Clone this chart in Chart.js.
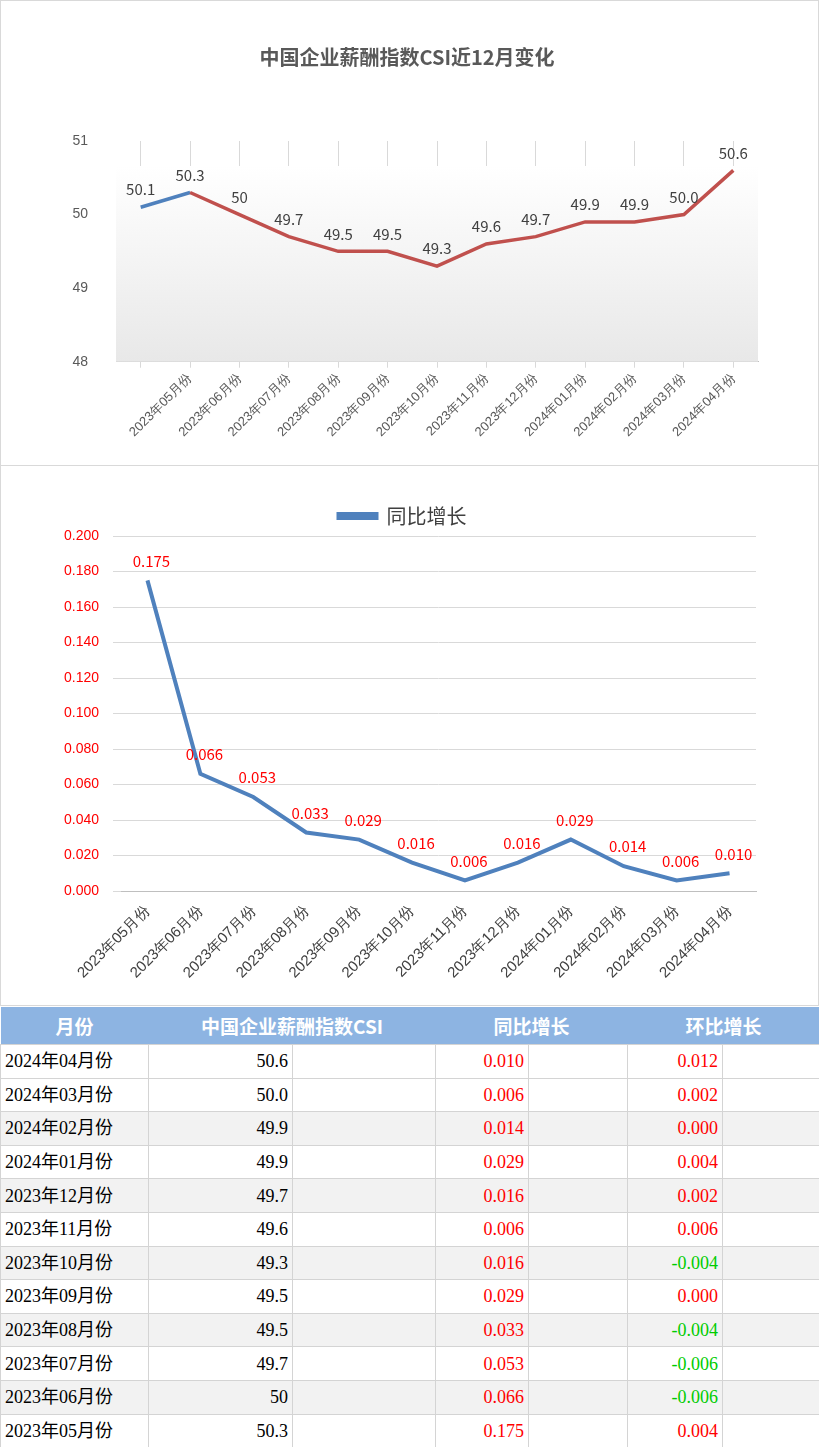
<!DOCTYPE html>
<html><head><meta charset="utf-8">
<script src="https://cdn.jsdelivr.net/npm/chart.js@4"></script>
<style>
body{margin:0;width:819px;height:1447px;background:#fff;font-family:"Noto Sans CJK SC",sans-serif;overflow:hidden}
.box{position:absolute;left:0;width:817px;border:1px solid #d9d9d9}
#b1{top:0;height:464px}
#b2{top:465px;height:539px}
table{position:absolute;top:1007px;left:0;width:819px;border-collapse:collapse;table-layout:fixed}
th{background:#8DB4E2;color:#fff;font-weight:bold;font-size:19px;height:37px;padding:0}
td{height:32.6px;line-height:20px;padding:0 4px;font-size:18px;border:1px solid #d4d4d4;font-family:"Liberation Serif","Noto Sans CJK SC",serif;color:#000;white-space:nowrap;overflow:hidden}
tr.g td{background:#F2F2F2}
.r{text-align:right}.red{color:#f00}.grn{color:#0c0}
</style></head><body>
<div class="box" id="b1"><canvas id="c1" width="817" height="464"></canvas></div>
<div class="box" id="b2"><canvas id="c2" width="817" height="539"></canvas></div>
<table id="t"></table>
<script>
const cat1=['','2023年05月份','2023年06月份','2023年07月份','2023年08月份','2023年09月份','2023年10月份','2023年11月份','2023年12月份','2024年01月份','2024年02月份','2024年03月份','2024年04月份'];
const csi=[50.1,50.3,50,49.7,49.5,49.5,49.3,49.6,49.7,49.9,49.9,50.0,50.6];
const csiLabels=['50.1','50.3','50','49.7','49.5','49.5','49.3','49.6','49.7','49.9','49.9','50.0','50.6'];
const cat2=cat1.slice(1);
const yoy=[0.175,0.066,0.053,0.033,0.029,0.016,0.006,0.016,0.029,0.014,0.006,0.010];
const tMonths=['2024年04月份','2024年03月份','2024年02月份','2024年01月份','2023年12月份','2023年11月份','2023年10月份','2023年09月份','2023年08月份','2023年07月份','2023年06月份','2023年05月份'];
const tCsi=['50.6','50.0','49.9','49.9','49.7','49.6','49.3','49.5','49.5','49.7','50','50.3'];
const tYoy=['0.010','0.006','0.014','0.029','0.016','0.006','0.016','0.029','0.033','0.053','0.066','0.175'];
const tMom=['0.012','0.002','0.000','0.004','0.002','0.006','-0.004','0.000','-0.004','-0.006','-0.006','0.004'];
const grayRows=[2,4,6,8,10];

let h='<colgroup><col style="width:148px"><col style="width:144px"><col style="width:143px"><col style="width:93px"><col style="width:99px"><col style="width:95px"><col style="width:97px"></colgroup>';
h+='<tr><th>月份</th><th colspan="2">中国企业薪酬指数CSI</th><th colspan="2">同比增长</th><th colspan="2">环比增长</th></tr>';
tMonths.forEach((m,i)=>{h+=`<tr class="${grayRows.includes(i)?'g':''}"><td>${m}</td><td class="r">${tCsi[i]}</td><td></td><td class="r red">${tYoy[i]}</td><td></td><td class="r ${tMom[i].startsWith('-')?'grn':'red'}">${tMom[i]}</td><td></td></tr>`});
document.getElementById('t').innerHTML=h;

const labelsPlugin={id:'lbl',afterDatasetsDraw(c,a,o){const ctx=c.ctx,m=c.getDatasetMeta(0);ctx.save();ctx.font=o.font;ctx.fillStyle=o.color;ctx.textAlign='center';ctx.textBaseline='bottom';
m.data.forEach((p,i)=>ctx.fillText(o.texts[i],p.x+(o.dx||0),p.y-(o.dy||0)));ctx.restore();}};
const bgPlugin={id:'bg',beforeDatasetsDraw(c,a,o){if(!o.on)return;const{ctx,chartArea:ca}=c;const t=ca.top+25;const g=ctx.createLinearGradient(0,t,0,ca.bottom);g.addColorStop(0,'#ffffff');g.addColorStop(1,'#e8e8e8');ctx.save();ctx.fillStyle=g;ctx.fillRect(ca.left,t,ca.right-ca.left,ca.bottom-t);ctx.restore();}};

new Chart(document.getElementById('c1'),{type:'line',plugins:[labelsPlugin,bgPlugin],
data:{labels:cat1,datasets:[{data:csi,borderWidth:3.5,pointRadius:0,tension:0,
segment:{borderColor:s=>s.p0DataIndex===0?'#4F81BD':'#C0504D'}}]},
options:{responsive:false,animation:false,layout:{padding:{left:55,right:60,top:20,bottom:22}},
plugins:{legend:{display:false},title:{display:true,text:'中国企业薪酬指数CSI近12月变化',color:'#595959',font:{size:20,weight:'bold',family:'Noto Sans CJK SC'},padding:{top:24,bottom:72}},
lbl:{texts:csiLabels,color:'#404040',font:'15px "Noto Sans CJK SC"',dy:10},bg:{on:true}},
scales:{x:{offset:true,grid:{color:'#d9d9d9',offset:false,drawTicks:true,tickLength:6},border:{color:'#bfbfbf'},
ticks:{color:'#595959',font:{size:13},minRotation:45,maxRotation:45,autoSkip:false}},
y:{min:48,max:51,afterFit:s=>{s.width=60},grid:{display:false},border:{display:false},ticks:{stepSize:1,color:'#595959',font:{size:14},padding:20}}}}});

new Chart(document.getElementById('c2'),{type:'line',plugins:[labelsPlugin],
data:{labels:cat2,datasets:[{label:'同比增长',data:yoy,borderColor:'#4F81BD',backgroundColor:'#4F81BD',borderWidth:4,pointRadius:0,tension:0}]},
options:{responsive:false,animation:false,layout:{padding:{left:48,right:62,top:14,bottom:20}},
plugins:{legend:{labels:{boxWidth:38,boxHeight:4,color:'#404040',font:{size:20,family:'Noto Sans CJK SC'},padding:26}},
lbl:{texts:yoy.map(v=>v.toFixed(3)),color:'#f00',font:'15px "Noto Sans CJK SC"',dy:12,dx:4}},
scales:{x:{offset:true,grid:{display:false},border:{color:'#bfbfbf'},ticks:{color:'#404040',font:{size:15},minRotation:45,maxRotation:45,autoSkip:false}},
y:{min:0,max:0.2,afterFit:s=>{s.width=72},grid:{color:'#d9d9d9'},border:{display:false},ticks:{stepSize:0.02,color:'#f00',font:{size:14},padding:14,callback:v=>v.toFixed(3)}}}}});
</script></body></html>
